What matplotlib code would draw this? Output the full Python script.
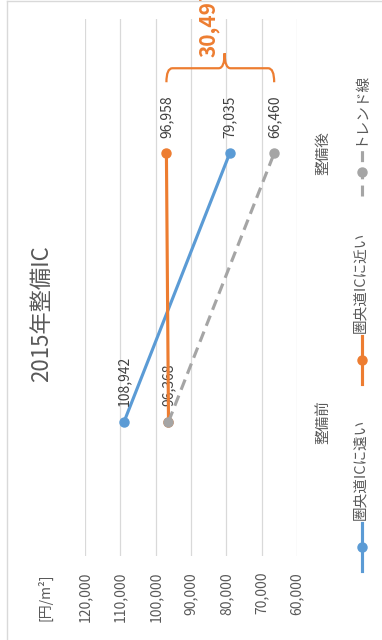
import matplotlib
matplotlib.use('Agg')
import matplotlib.pyplot as plt
import numpy as np
from matplotlib.lines import Line2D
from matplotlib.path import Path
from matplotlib.patches import PathPatch

plt.rcParams['font.family'] = ['Noto Sans CJK JP', 'DejaVu Sans']

# ---------------- data ----------------
categories = ['整備前', '整備後']
far_ic = [108942, 79035]      # 圏央道ICに遠い
near_ic = [96368, 96958]      # 圏央道ICに近い
trend = [96368, 66460]        # トレンド線
series_names = ['圏央道ICに遠い', '圏央道ICに近い', 'トレンド線']
value_ticks = [120000, 110000, 100000, 90000, 80000, 70000, 60000]
gap_label = '30,497'
title = '2015年整備IC'
unit_label = '[円/m²]'

# ---------------- style ----------------
BLUE = '#5B9BD5'
ORANGE = '#ED7D31'
GRAY = '#A5A5A5'
TXT = '#595959'
LBL = '#404040'
GRID = '#D9D9D9'
DASH = (0, (3.5, 2.0))

W, H = 382, 640
fig = plt.figure(figsize=(W / 100, H / 100), dpi=100)
fig.patch.set_facecolor('white')


def fx(x):
    return x / W


def fy(y):
    return 1 - y / H


ax = fig.add_axes([fx(85), fy(556), fx(297) - fx(85), fy(19) - fy(556)])
ax.set_xlim(max(value_ticks), min(value_ticks))
ax.set_ylim(-0.5, len(categories) - 0.5)
for s in ax.spines.values():
    s.set_visible(False)

ax.set_xticks(value_ticks)
ax.set_xticklabels([f'{v:,}' for v in value_ticks], rotation=90, color=TXT, fontsize=10)
ax.tick_params(axis='x', length=0, pad=11.5)
ax.grid(axis='x', color=GRID, lw=0.9)
ax.set_axisbelow(True)

pos = np.arange(len(categories))
ax.yaxis.tick_right()
ax.set_yticks(pos)
ax.set_yticklabels(categories, rotation=90, va='center', ha='left', fontsize=10.5, color=TXT)
ax.tick_params(axis='y', length=0, pad=14)

ax.plot(far_ic, pos, color=BLUE, lw=2.25, marker='o', ms=6.5, zorder=3, clip_on=False)
ax.plot(near_ic, pos, color=ORANGE, lw=2.25, marker='o', ms=6.5, zorder=4, clip_on=False)
ax.plot(trend, pos, color=GRAY, lw=2.25, ls=DASH, dash_capstyle='butt', marker='o', ms=6.5,
        zorder=5, clip_on=False)


def label(v, p):
    ax.annotate(f'{v:,}', (v, p), xytext=(0, 11), textcoords='offset points', rotation=90,
                ha='center', va='bottom', fontsize=10, color=LBL)


for v, p in zip(far_ic, pos):
    label(v, p)
for v, p in zip(near_ic, pos):
    label(v, p)
label(trend[1], pos[1])

# ---------------- brace ----------------
x0, x1 = near_ic[1], trend[1]
xm = x0 + 0.54 * (x1 - x0)
px_y = (len(categories)) / (556 - 19)
y_end = pos[1] + 71 * px_y
y_bar = pos[1] + 85 * px_y
y_tip = pos[1] + 100 * px_y
r = 6 * 10000 / 35.4  # ~6 px in value units
sgn = -1  # moving from x0 toward x1 decreases value
verts = [
    (x0, y_end),
    (x0, y_bar), (x0 + sgn * r, y_bar),
    (xm - sgn * r, y_bar),
    (xm, y_bar), (xm, y_tip),
    (xm, y_bar), (xm + sgn * r, y_bar),
    (x1 - sgn * r, y_bar),
    (x1, y_bar), (x1, y_end),
]
codes = [Path.MOVETO,
         Path.CURVE3, Path.CURVE3,
         Path.LINETO,
         Path.CURVE3, Path.CURVE3,
         Path.CURVE3, Path.CURVE3,
         Path.LINETO,
         Path.CURVE3, Path.CURVE3]
ax.add_patch(PathPatch(Path(verts, codes), fill=False, ec=ORANGE, lw=1.6, clip_on=False, zorder=6))
ax.annotate(gap_label, (xm, y_tip), xytext=(-4, -3), textcoords='offset points', rotation=90,
            ha='right', va='bottom', fontsize=15, fontweight='bold', color=ORANGE,
            annotation_clip=False)

# ---------------- titles ----------------
fig.text(fx(42), fy(314), title, rotation=90, ha='center', va='center', fontsize=16, color=TXT)
fig.text(fx(45), fy(597), unit_label, rotation=90, ha='center', va='center', fontsize=10, color=TXT)

# ---------------- legend ----------------
legend_items = [
    (series_names[0], BLUE, '-', 547),
    (series_names[1], ORANGE, '-', 360),
    (series_names[2], GRAY, DASH, 172),
]
for name, col, ls, yc in legend_items:
    fig.add_artist(Line2D([fx(362), fx(362)], [fy(yc + 24), fy(yc - 24)], transform=fig.transFigure,
                          color=col, lw=2.25, ls=ls, dash_capstyle='butt'))
    fig.add_artist(Line2D([fx(362)], [fy(yc)], transform=fig.transFigure, color=col,
                          marker='o', ms=6.5, lw=0))
    fig.text(fx(360), fy(yc - 27), name, rotation=90, ha='center', va='bottom', fontsize=10.5, color=TXT)

# ---------------- chart border ----------------
fig.add_artist(Line2D([fx(7), fx(7)], [fy(1), 0], transform=fig.transFigure, color=GRID, lw=1))
fig.add_artist(Line2D([fx(7), 1], [fy(1), fy(1)], transform=fig.transFigure, color=GRID, lw=1))

fig.savefig('out.png', dpi=100, facecolor='white')
